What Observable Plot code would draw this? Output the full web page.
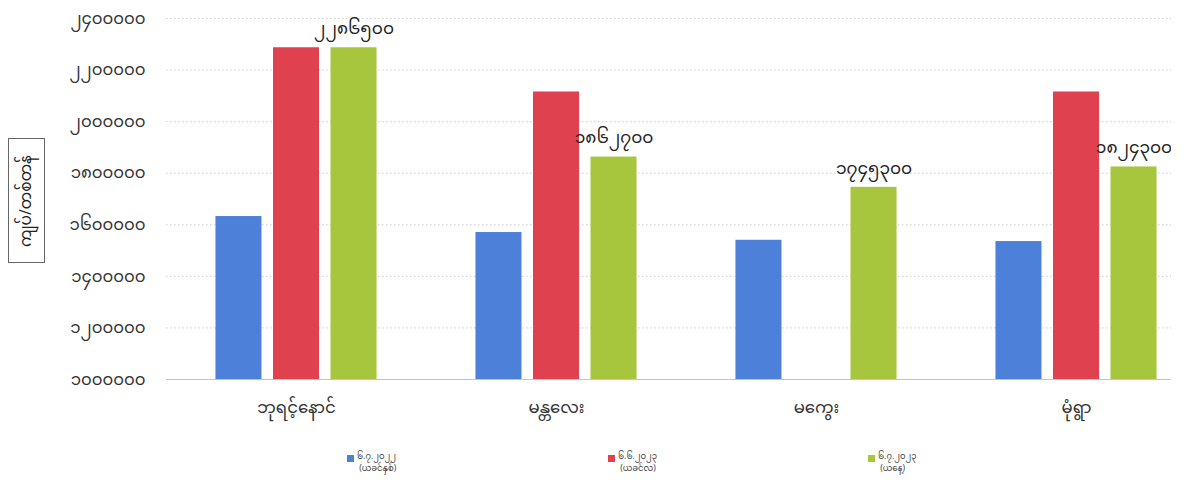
<!DOCTYPE html>
<html>
<head>
<meta charset="utf-8">
<script src="https://cdn.jsdelivr.net/npm/d3@7"></script>
<script src="https://cdn.jsdelivr.net/npm/@observablehq/plot@0.6"></script>
<style>
  body { margin: 0; background: #fff; }
  #wrap { position: relative; width: 1186px; height: 484px; overflow: hidden; font-family: "Noto Sans Myanmar", "Padauk", "Myanmar Text", "Noto Sans", sans-serif; color: #333; }
  #chart svg { clip-path: inset(0 15px 0 0); }
  #ylab { position: absolute; left: 8px; top: 138px; width: 37px; height: 125px; border: 1px solid #666; box-sizing: border-box; }
  #ylab span { position: absolute; left: 50%; top: 50%; transform: translate(-50%, -50%) rotate(-90deg); white-space: nowrap; font-size: 15.5px; line-height: 16px; color: #222; }
  .leg { position: absolute; font-size: 8.5px; line-height: 12px; color: #444; white-space: pre; }
  .sw { position: absolute; width: 7px; height: 7px; }
</style>
</head>
<body>
<div id="wrap">
  <div id="chart"></div>
  <div id="ylab"><span></span></div>
  <div id="legend"></div>
</div>
<script>
const categories = ["ဘုရင့်နောင်", "မန္တလေး", "မကွေး", "မုံရွာ"];
const seriesNames = ["၆.၇.၂၀၂၂", "၆.၆.၂၀၂၃", "၆.၇.၂၀၂၃"];
const seriesNotes = ["(ယခင်နှစ်)", "(ယခင်လ)", "(ယနေ့)"];
const seriesColors = ["#4d80d8", "#e0414f", "#a8c53e"];
const lastYear = [1632000, 1570000, 1540000, 1535000];
const lastMonth = [2286500, 2115000, null, 2115000];
const today = [2286500, 1862700, 1745300, 1824300];
const todayLabels = ["၂၂၈၆၅၀၀", "၁၈၆၂၇၀၀", "၁၇၄၅၃၀၀", "၁၈၂၄၃၀၀"];
const yTicks = [1000000, 1200000, 1400000, 1600000, 1800000, 2000000, 2200000, 2400000];
const yTickLabels = ["၁၀၀၀၀၀၀", "၁၂၀၀၀၀၀", "၁၄၀၀၀၀၀", "၁၆၀၀၀၀၀", "၁၈၀၀၀၀၀", "၂၀၀၀၀၀၀", "၂၂၀၀၀၀၀", "၂၄၀၀၀၀၀"];
const yLabel = "ကျပ်/တစ်တန်";

const seriesValues = [lastYear, lastMonth, today];
const data = [];
categories.forEach((c, i) => {
  seriesValues.forEach((vals, s) => {
    if (vals[i] != null) data.push({cat: c, series: seriesNames[s], value: vals[i], label: s === 2 ? todayLabels[i] : ""});
  });
});

const font = '"Noto Sans Myanmar", "Padauk", "Myanmar Text", "Noto Sans", sans-serif';

const chart = Plot.plot({
  width: 1186,
  height: 440,
  marginTop: 18,
  marginBottom: 61,
  marginLeft: 166,
  marginRight: -20,
  style: {fontSize: "16.5px", fontFamily: font, color: "#333", background: "transparent"},
  facet: {data, x: "cat"},
  fx: {domain: categories, padding: 0, label: null, tickSize: 0, tickPadding: 22},
  x: {domain: seriesNames, paddingInner: 0.2, paddingOuter: 0.86, round: false, axis: null},
  y: {domain: [1000000, 2400000], ticks: yTicks, tickSize: 0, tickPadding: 21, label: null,
      tickFormat: d => yTickLabels[yTicks.indexOf(d)]},
  color: {domain: seriesNames, range: seriesColors},
  marks: [
    Plot.ruleY(yTicks.slice(1), {stroke: "#cccccc", strokeDasharray: "1.5,2.5", strokeWidth: 1}),
    Plot.barY(data, {x: "series", y1: 1000000, y2: "value", fill: "series"}),
    Plot.ruleY([1000000], {stroke: "#c4c4c4", strokeWidth: 1.2}),
    Plot.text(data, {x: "series", y: "value", text: "label", dy: -19, fill: "#222", fontSize: 17})
  ]
});
document.getElementById("chart").appendChild(chart);
document.querySelector("#ylab span").textContent = yLabel;

const legendX = [357, 618, 878];
const legend = document.getElementById("legend");
seriesNames.forEach((s, i) => {
  const sw = document.createElement("div");
  sw.className = "sw";
  sw.style.left = (legendX[i] - 10) + "px";
  sw.style.top = "455px";
  sw.style.background = seriesColors[i];
  legend.appendChild(sw);
  const d = document.createElement("div");
  d.className = "leg";
  d.style.left = legendX[i] + "px";
  d.style.top = "451px";
  d.textContent = s + "\n " + seriesNotes[i];
  legend.appendChild(d);
});
</script>
</body>
</html>
